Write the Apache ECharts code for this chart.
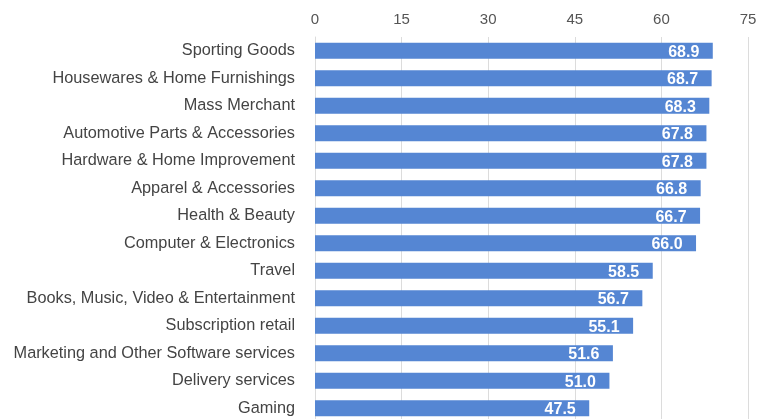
<!DOCTYPE html>
<html><head><meta charset="utf-8">
<script src="https://cdn.jsdelivr.net/npm/echarts@6/dist/echarts.min.js"></script>
<style>html,body{margin:0;padding:0;background:#fff;}#c{width:766px;height:419px;}</style>
</head><body><div id="c"></div>
<script>
var categories = ["Sporting Goods","Housewares & Home Furnishings","Mass Merchant","Automotive Parts & Accessories","Hardware & Home Improvement","Apparel & Accessories","Health & Beauty","Computer & Electronics","Travel","Books, Music, Video & Entertainment","Subscription retail","Marketing and Other Software services","Delivery services","Gaming"];
var values = [68.9,68.7,68.3,67.8,67.8,66.8,66.7,66.0,58.5,56.7,55.1,51.6,51.0,47.5];
var xTicks = [0,15,30,45,60,75];

var FONT = '"Liberation Sans", Arial, sans-serif';
var chart = echarts.init(document.getElementById('c'), null, {renderer:'canvas'});
chart.setOption({
  animation:false,
  grid:{left:315,width:433,top:37,height:385,containLabel:false,outerBoundsMode:'none'},
  xAxis:{type:'value',position:'top',min:xTicks[0],max:xTicks[xTicks.length-1],interval:15,
    axisLine:{show:false},axisTick:{show:false},
    splitLine:{lineStyle:{color:'#dcdcdc',width:1}},
    axisLabel:{color:'#555',fontSize:15,fontFamily:FONT,margin:10}},
  yAxis:{type:'category',data:categories,inverse:true,
    axisLine:{show:true,lineStyle:{color:'#dcdcdc'}},axisTick:{show:false},
    axisLabel:{color:'#444',fontSize:16.3,fontFamily:FONT,margin:20,padding:[4,0,0,0]}},
  series:[{type:'bar',data:values,barWidth:16,
    itemStyle:{color:'#5586d3'},
    label:{show:true,position:'insideRight',color:'#fff',fontWeight:'bold',fontSize:16,
      fontFamily:FONT,offset:[-8.5,1.5],formatter:function(p){return p.value.toFixed(1);}}}]
});
</script></body></html>
